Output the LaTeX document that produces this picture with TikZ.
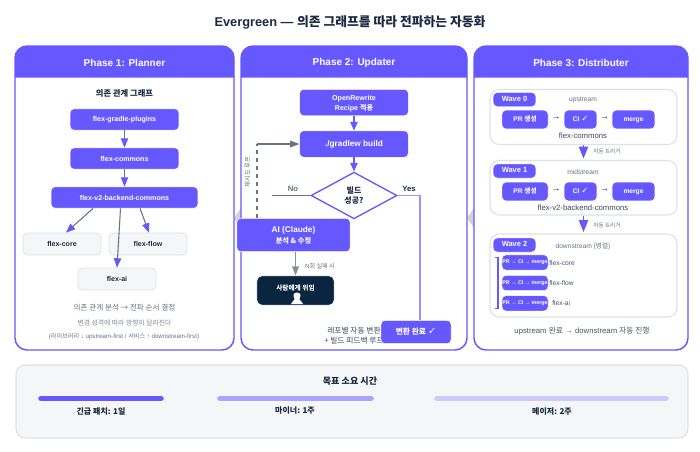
\documentclass[tikz,border=0pt]{standalone}
\usepackage{fontspec}
\setmainfont{Liberation Sans}
\newfontfamily\krf{Noto Sans CJK KR}
\newfontfamily\djv{DejaVu Sans}
\newcommand{\K}[1]{{\krf #1}}
\newcommand{\ck}{\scalebox{1.25}{\djv ✓}}
\usetikzlibrary{arrows.meta,shapes.geometric}
\definecolor{pur}{HTML}{6558FF}
\definecolor{ink}{HTML}{1B2A41}
\definecolor{navy}{HTML}{0A2540}
\definecolor{gry}{HTML}{6B7280}
\definecolor{lite}{HTML}{F5F6F8}
\definecolor{edge}{HTML}{DFE1E7}
\newcommand{\fs}[1]{\fontsize{#1}{#1}\selectfont}
\tikzset{
 x=0.75pt,y=-0.75pt,
 pbox/.style={rectangle,rounded corners=3pt,fill=pur,draw=white,line width=.3pt,text=white,font=\fs{5.3}\bfseries,align=center,inner sep=0pt,minimum height=16pt},
 gbox/.style={rectangle,rounded corners=3.5pt,fill=lite,draw=edge,line width=.6pt,text=ink,font=\fs{5.3}\bfseries,inner sep=0pt,minimum width=58.5pt,minimum height=16.5pt},
 panel/.style={draw=pur,line width=1.1pt,fill=white,rounded corners=9pt},
 wavebox/.style={draw=edge,line width=.8pt,fill=white,rounded corners=7pt},
 parr/.style={-{Triangle[length=7pt,width=5.5pt,fill=pur,color=pur]},draw=gry,line width=.8pt},
 harr/.style={-{Triangle[length=6.5pt,width=5.5pt]},draw=pur,line width=1pt},
 barr/.style={-{Triangle[length=9pt,width=7pt]},draw=pur,line width=1pt},
 gt/.style={text=gry,inner sep=0pt},
 dt/.style={text=ink,inner sep=0pt},
 phase/.style={text=white,font=\fs{7.5}\bfseries,inner sep=0pt},
 wsmall/.style={pbox,minimum height=14pt,font=\fs{5}\bfseries,text height=3.7pt,text depth=1.1pt},
 wlab/.style={pbox,minimum width=32pt,minimum height=10.5pt,font=\fs{5.6}\bfseries,text height=4.1pt,text depth=1.2pt},
 wrow/.style={pbox,minimum width=34.5pt,minimum height=11.5pt,font=\fs{4}\bfseries,text height=3pt,text depth=.9pt},
}
\begin{document}
\begin{tikzpicture}
\useasboundingbox (0,0) rectangle (700,451);
\fill[white] (0,0) rectangle (700,451);
\node[text=ink,font=\fs{9.6}\bfseries,inner sep=0pt] (title) at (350,22) {Evergreen — \K{의존 그래프를 따라 전파하는 자동화}};
% chevrons
\fill[gray!35] (241,208) -- (234,218) -- (241,228) -- cycle;
\fill[gray!35] (474,208) -- (467,218) -- (474,228) -- cycle;
% panels
\foreach \a/\b/\t/\n in {15/234/Phase 1: Planner/p1,241/467/Phase 2: Updater/p2,474/688/Phase 3: Distributer/p3}{
 \draw[panel] (\a,46) rectangle (\b,350);
 \fill[pur,rounded corners=9pt] (\a,77.5) [sharp corners] -- (\a,70) [rounded corners=9pt] -- (\a,46) -- (\b,46) -- (\b,70) [sharp corners] -- (\b,77.5) -- cycle;
 \node[phase] (\n) at ({(\a+\b)/2},62.5) {\t};
}
% Phase 1
\node[dt,font=\fs{6.2}\bfseries\krf] (g) at (124.5,93.5) {의존 관계 그래프};
\node[pbox,minimum width=81.5pt] (a1) at (124.5,119.5) {flex-gradle-plugins};
\node[pbox,minimum width=81.5pt] (a2) at (124.5,158.5) {flex-commons};
\node[pbox,minimum width=110pt] (a3) at (124.5,197.5) {flex-v2-backend-commons};
\node[gbox] (c1) at (62,244) {flex-core};
\node[gbox] (c2) at (148,244) {flex-flow};
\node[gbox] (c3) at (117,279) {flex-ai};
\draw[parr] (a1) -- (a2);
\draw[parr] (a2) -- (a3);
\draw[parr] (a3.south -| 93,0) -- (c1.north -| 66,0);
\draw[parr] (a3.south -| 140,0) -- (c2.north -| 149,0);
\draw[parr] (a3.south -| 120.5,0) -- (c3.north);
\node[gt,font=\fs{5.7}\krf] (n1) at (124.5,308) {의존 관계 분석 → 전파 순서 결정};
\node[gt,font=\fs{5.1}\krf,text=gry!85] (n2) at (124.5,322.5) {변경 성격에 따라 방향이 달라진다};
\node[gt,font=\fs{4.6}] (n3) at (124,337) {(\K{라이브러리} ↓ upstream-first / \K{서비스} ↑ downstream-first)};
% Phase 2
\node[pbox,minimum width=81.5pt,minimum height=19.8pt,font=\fs{5.3}\bfseries,align=center] (b1) at (354,102.5) {\rule{0pt}{5.5pt}OpenRewrite\\[1pt]Recipe \K{적용}};
\node[pbox,minimum width=81.5pt,minimum height=19.8pt,font=\fs{6.2}\bfseries] (b2) at (354,144) {./gradlew build};
\node[diamond,draw=pur,fill=white,line width=1pt,aspect=1.84,inner sep=0pt,minimum width=64.5pt,minimum height=35pt,text=ink,font=\fs{6}\bfseries\krf,align=center] (d) at (354,195.5) {빌드\\[1pt]성공?};
\node[pbox,minimum width=85pt,minimum height=25pt,font=\fs{6.2}\bfseries,align=center] (b3) at (293.5,235) {AI (Claude)\\[2pt]{\fs{5.4}\krf 분석 \& 수정}};
\node[rectangle,rounded corners=4pt,fill=navy,draw=white,line width=.3pt,inner sep=0pt,minimum width=58pt,minimum height=22pt] (h) at (295.5,290.5) {};
\node[text=white,font=\fs{5}\bfseries\krf,inner sep=0pt] (ht) at (295.5,288) {사람에게 위임};
\fill[white] (297,304) -- (291,304) .. controls (291,301) and (295,301) .. (294.5,298.5) .. controls (293,296) and (293,292.5) .. (297,292.5) .. controls (301,292.5) and (301,296) .. (299.5,298.5) .. controls (299,301) and (303,301) .. (303,304) -- cycle;
\node[dt,font=\fs{5.8}\krf,text=ink!85,align=center] (n4) at (354,335.5) {레포별 자동 변환\\[1.5pt]+ 빌드 피드백 루프};
\node[pbox,minimum width=52.5pt,minimum height=17.5pt,font=\fs{5.8}\bfseries] (b4) at (416,332) {\K{변환 완료} \ck};
\draw[harr] (b1) -- (b2);
\draw[harr] (b2) -- (d);
\coordinate (no) at (272,195.5);
\draw[draw=gry,line width=1pt] (d.west) -- (no);
\node[gt,font=\fs{5.8}\bfseries] (nol) at (293,188.5) {No};
\node[dt,font=\fs{5.8}\bfseries] (yl) at (409,188.5) {Yes};
\coordinate (yy) at (420,320);
\draw[draw=pur!65,line width=1.1pt] (d.east) -- (yy |- d.east) -- (yy);
\coordinate (rf) at (257,218);
\coordinate (rc) at (257,144);
\draw[draw=gry,line width=.8pt,dashed] (rf) -- (rc);
\draw[draw=gry,line width=.8pt,-{Triangle[length=7pt,width=5pt]}] (rc) -- (b2.west);
\node[gt,font=\fs{4.8}\krf,rotate=90] (rl) at (247.5,172) {재시도 루프};
\draw[-{Triangle[length=7pt,width=5pt]},draw=gry!80,line width=1.4pt] (b3.south -| h) -- (h.north);
\node[gt,font=\fs{4.6}] (nl) at (320,266.5) {N\K{회 실패 시}};
% Phase 3
\foreach \y/\h in {89.5/55,160.5/54.5,234/83}
 \draw[wavebox] (490,\y) rectangle (677,\y+\h);
\node[wlab] (wl0) at (514.5,99.5) {Wave 0};
\node[wlab] (wl1) at (514.5,171) {Wave 1};
\node[wlab] (wl2) at (514.5,245) {Wave 2};
\node[gt,font=\fs{5}] (u0) at (583,100.5) {upstream};
\node[gt,font=\fs{5}] (u1) at (583,172) {midstream};
\node[gt,font=\fs{5}] (u2) at (583,246) {downstream (\K{병렬})};
\foreach \y/\s/\l/\ly in {119.5/0/flex-commons/136,191.5/1/flex-v2-backend-commons/207.5}{
 \node[wsmall,minimum width=34.5pt] (pr\s) at (525,\y) {PR \K{생성}};
 \node[wsmall,minimum width=24.5pt] (ci\s) at (580.5,\y) {CI \ck};
 \node[wsmall,minimum width=32pt] (mg\s) at (633.5,\y) {merge};
 \node[text=ink!85,font=\fs{5.8},inner sep=0pt] (lb\s) at (583,\ly) {\l};
 \node[text=ink,font=\fs{7}\bfseries,inner sep=0pt] (ar\s) at (556,\y-1) {→};
 \node[text=ink,font=\fs{7}\bfseries,inner sep=0pt] (br\s) at (604.5,\y-1) {→};
}
\coordinate (t0) at (583.5,145);
\coordinate (t0b) at (583.5,158.5);
\coordinate (t1) at (583.5,216);
\coordinate (t1b) at (583.5,232);
\draw[barr] (t0) -- (t0b);
\draw[barr] (t1) -- (t1b);
\node[gt,font=\fs{4.2}\krf] (tl0) at (607,151.5) {자동 트리거};
\node[gt,font=\fs{4.2}\krf] (tl1) at (607,225.5) {자동 트리거};
\node[wrow] (r1) at (525,262.5) {PR → CI → merge};
\node[wrow] (r2) at (525,283) {PR → CI → merge};
\node[wrow] (r3) at (525,303.3) {PR → CI → merge};
\node[gt,font=\fs{5},text=ink!80,anchor=west] (r1l) at (549,263.5) {flex-core};
\node[gt,font=\fs{5},text=ink!80,anchor=west] (r2l) at (549,283.5) {flex-flow};
\node[gt,font=\fs{5},text=ink!80,anchor=west] (r3l) at (552,303.5) {flex-ai};
\draw[pur,line width=.9pt] (495,257.5) -- (498,257.5) -- (498,308.5) -- (495,308.5);
\node[gt,font=\fs{5.8},text=ink!80] (n5) at (582,331.5) {upstream \K{완료} → downstream \K{자동 진행}};
% bottom
\draw[draw=edge,line width=.8pt,fill=lite,rounded corners=7pt] (16,365) rectangle (688,438);
\node[dt,font=\fs{6.8}\bfseries\krf] (tt) at (350,381) {목표 소요 시간};
\foreach \a/\b/\c in {39/163/pur,218/373/pur!55,435/668/pur!32}
 \draw[line cap=round,line width=4.2pt,draw=\c] (\a+2,398.5) -- (\b-2,398.5);
\node[dt,font=\fs{6}\bfseries\krf] (l1) at (101,411) {긴급 패치: 1일};
\node[dt,font=\fs{6}\bfseries\krf] (l2) at (295,411) {마이너: 1주};
\node[dt,font=\fs{6}\bfseries\krf] (l3) at (552,411) {메이저: 2주};
\end{tikzpicture}
\end{document}
